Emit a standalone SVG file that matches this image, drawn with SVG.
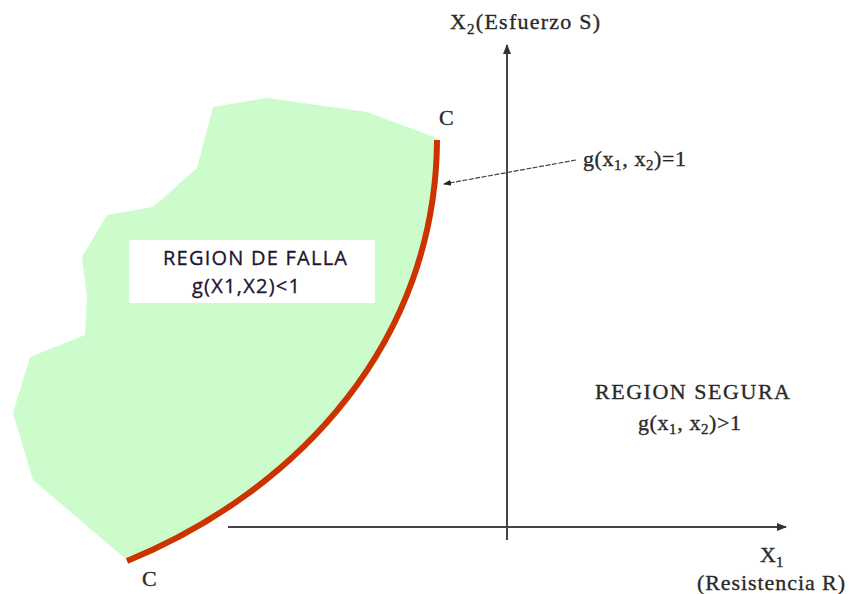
<svg xmlns="http://www.w3.org/2000/svg" width="852" height="594" viewBox="0 0 852 594">
<style>
.serif{font-family:"Liberation Serif","Times New Roman",serif;fill:#2a2a2a;stroke:#2a2a2a;stroke-width:0.35px;font-size:22px}
.sub{font-size:15px}
.sans{font-family:"Open Sans","DejaVu Sans",sans-serif;fill:#22142e;stroke:#22142e;stroke-width:0.3px;font-size:20px}
.axis{stroke:#444;stroke-width:2;fill:none}
</style>
<defs>
<marker id="ah" markerWidth="10" markerHeight="8" refX="9" refY="4" orient="auto" markerUnits="userSpaceOnUse">
<path d="M0,0 L10,4 L0,8 Z" fill="#333"/>
</marker>
<marker id="ah2" markerWidth="8" markerHeight="6" refX="7" refY="3" orient="auto" markerUnits="userSpaceOnUse">
<path d="M0,0 L8,3 L0,6 Z" fill="#222"/>
</marker>
</defs>
<rect width="852" height="594" fill="#fff"/>
<g id="falla-region">
<path d="M213,107 L267,98 L367,112 L437,138 C436,340 300,490 127,560 L33,480 L13,413 L30,357 L85,335 L87,297 L82,257 L107,215 L153,207 L197,168 Z" fill="#ccfccc"/>
<rect x="129" y="240" width="246" height="63" fill="#fff"/>
<text class="sans" x="163" y="265" textLength="184">REGION DE FALLA</text>
<text class="sans" x="192" y="293" textLength="108">g(X1,X2)&lt;1</text>
</g>
<g id="limit-curve">
<path d="M437,140 C436,340 300,490 127,561" fill="none" stroke="#cc3300" stroke-width="6"/>
<text class="serif" x="439" y="125">C</text>
<text class="serif" x="142" y="586">C</text>
</g>
<g id="connectors">
<line class="axis" x1="507" y1="540" x2="507" y2="45" marker-end="url(#ah)"/>
<line class="axis" x1="228" y1="527" x2="786" y2="527" marker-end="url(#ah)"/>
<line x1="576" y1="160" x2="444" y2="184" stroke="#444" stroke-width="1.2" stroke-dasharray="5,1.5" marker-end="url(#ah2)"/>
</g>
<g id="labels">
<text class="serif" x="450" y="29" textLength="150">X<tspan class="sub" dy="5">2</tspan><tspan dy="-5">(Esfuerzo S)</tspan></text>
<text class="serif" x="583" y="166" textLength="103">g(x<tspan class="sub" dy="4">1</tspan><tspan dy="-4">, x</tspan><tspan class="sub" dy="4">2</tspan><tspan dy="-4">)=1</tspan></text>
<text class="serif" x="595" y="399" textLength="195">REGION SEGURA</text>
<text class="serif" x="638" y="430" textLength="103">g(x<tspan class="sub" dy="4">1</tspan><tspan dy="-4">, x</tspan><tspan class="sub" dy="4">2</tspan><tspan dy="-4">)&gt;1</tspan></text>
<text class="serif" x="760" y="562">X<tspan class="sub" dy="5">1</tspan></text>
<text class="serif" x="697" y="590" textLength="148">(Resistencia R)</text>
</g>
</svg>
